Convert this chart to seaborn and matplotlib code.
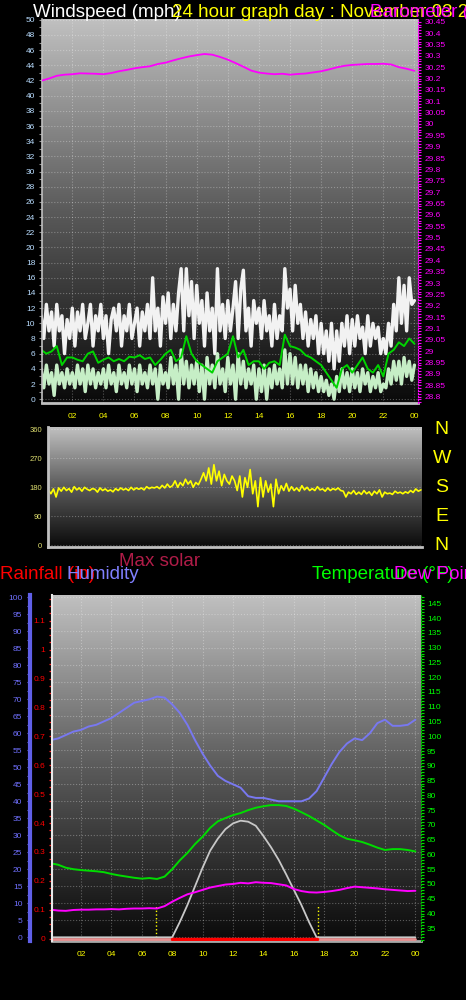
import matplotlib
matplotlib.use("Agg")
import matplotlib.pyplot as plt
import matplotlib.transforms as mtransforms
from matplotlib.colors import LinearSegmentedColormap
from matplotlib.ticker import MultipleLocator
import seaborn as sns
import numpy as np

# ---------------- data ----------------
hour_ticks = [2, 4, 6, 8, 10, 12, 14, 16, 18, 20, 22, 24]
hour_labels = ["02", "04", "06", "08", "10", "12", "14", "16", "18", "20", "22", "00"]

# wind gust (mph), every 10 minutes
gust = [11, 8, 12.5, 9, 11.5, 7,
        12.5, 9, 11, 6, 10.5, 8,
        12, 7, 11.5, 9, 12.5, 8,
        10, 12.5, 7, 11, 9, 12.5,
        8, 11, 6, 10.5, 12, 9,
        12.5, 7, 11, 9, 12.5, 8,
        10, 12, 7, 11.5, 9, 12.5,
        8, 16, 9, 12, 7, 13.5,
        10, 14, 8, 12.5, 9, 14,
        17.2, 9, 17.2, 11, 15.5, 8,
        15, 10, 13, 7, 14, 9,
        12, 6, 17.2, 9, 12.5, 8,
        13, 9, 12, 15.5, 8, 14.5,
        17, 9, 12, 7, 13, 10,
        12, 8, 13, 9, 11, 7,
        12.5, 8, 11, 9, 17.2, 12,
        14.5, 9, 15, 10, 12.5, 8,
        11.5, 7, 10.5, 8, 11, 6,
        10, 6, 9, 5, 10, 4,
        9, 5, 10, 7, 11, 6,
        10.5, 7, 11, 8, 9.5, 6,
        11, 7, 10, 8, 9.5, 6,
        8, 6, 10, 7, 12.5, 9,
        16, 10, 15, 9, 16, 12.5,
        13]

# average wind speed (mph), every 10 minutes
wind_avg = [4, 1.5, 4.5, 2, 3.5, 0.5,
            4.5, 2, 3.5, 1.5, 4, 2,
            3.5, 1.5, 4.5, 2, 4, 1,
            4.5, 2, 4, 1.5, 3.5, 2,
            4, 1.5, 4.5, 2, 3.5, 1,
            4.5, 2, 3.5, 1.5, 4.5, 2,
            4, 1, 4.5, 2, 3.5, 1.5,
            4.5, 2, 4, 0, 4.5, 2,
            3.5, 1.5, 5.5, 2, 4.5, 0,
            6.5, 2, 5, 1.5, 4.5, 2,
            5, 1, 4.5, 0, 5.5, 2,
            4.5, 1.5, 6, 2, 4, 1,
            5.5, 2, 4.5, 0, 6, 2,
            5, 1.5, 4, 2, 4.5, 0,
            4, 1, 4.5, 0, 4, 1.5,
            4.5, 2, 4, 1.5, 6.5, 2,
            6, 2, 5.5, 1.5, 4.5, 2,
            4.5, 1, 4, 1.5, 3.5, 1,
            3, 1, 2.5, 0.5, 2, 0,
            3, 1, 4, 1.5, 3.5, 1,
            4, 1.5, 3.5, 1, 4, 2,
            3.5, 1, 3, 1.5, 3.5, 1,
            2, 1.5, 4, 2, 5, 2.5,
            5, 2, 5.5, 3, 5, 2.5,
            4.5]

# 10-minute average wind (mph), every 20 minutes
wind_10min = [6.5, 6.0, 6.3, 7.0, 4.5, 5.5, 5.5, 5.2, 5.0, 6.0, 6.3, 4.8,
              5.2, 5.5, 5.0, 5.3, 5.0, 5.6, 5.5, 5.8, 5.3, 5.5, 4.5, 5.2,
              6.0, 6.5, 5.0, 5.5, 8.3, 6.0, 5.0, 4.5, 4.0, 3.5, 5.0, 5.5,
              6.0, 8.3, 5.5, 6.5, 4.5, 5.0, 5.0, 4.0, 4.8, 5.0, 4.5, 8.5,
              7.0, 6.8, 6.5, 5.8, 5.5, 5.0, 4.5, 3.5, 2.5, 1.5, 4.0, 4.5,
              3.5, 4.5, 5.5, 4.0, 3.5, 4.5, 3.0, 6.0, 6.5, 7.5, 7.0, 8.0,
              7.3]

# barometer (inHg), every 30 minutes
pressure = [30.190, 30.200, 30.212, 30.217, 30.219, 30.223, 30.222, 30.221,
            30.219, 30.224, 30.232, 30.238, 30.245, 30.250, 30.254, 30.264,
            30.270, 30.280, 30.289, 30.297, 30.303, 30.308, 30.305, 30.295,
            30.283, 30.268, 30.252, 30.235, 30.226, 30.222, 30.219, 30.221,
            30.217, 30.220, 30.222, 30.227, 30.232, 30.240, 30.249, 30.256,
            30.260, 30.262, 30.264, 30.264, 30.265, 30.262, 30.250, 30.243,
            30.234]
pressure_ticks = [28.8, 28.85, 28.9, 28.95, 29, 29.05, 29.1, 29.15, 29.2, 29.25,
                  29.3, 29.35, 29.4, 29.45, 29.5, 29.55, 29.6, 29.65, 29.7, 29.75,
                  29.8, 29.85, 29.9, 29.95, 30, 30.05, 30.1, 30.15, 30.2, 30.25,
                  30.3, 30.35, 30.4, 30.45]

# wind direction (degrees), every 10 minutes
direction = [172, 160, 175, 150, 178, 168,
             180, 170, 176, 165, 182, 172,
             178, 168, 180, 174, 170, 176,
             174, 165, 178, 170, 175, 168,
             172, 166, 176, 170, 178, 172,
             176, 170, 180, 172, 178, 174,
             178, 172, 182, 176, 180, 178,
             182, 176, 186, 178, 190, 180,
             185, 200, 180, 195, 185, 205,
             190, 200, 180, 195, 188, 205,
             225, 200, 240, 190, 250, 200,
             230, 185, 220, 200, 190, 215,
             200, 170, 215, 150, 210, 180,
             235, 160, 200, 120, 210, 150,
             200, 165, 190, 120, 205, 160,
             185, 170, 192, 168, 182, 170,
             178, 168, 185, 172, 180, 170,
             176, 170, 182, 172, 175, 168,
             178, 170, 176, 172, 178, 170,
             168, 150, 165, 160, 170, 158,
             165, 158, 170, 160, 166, 155,
             168, 160, 172, 150, 165, 160,
             162, 158, 168, 162, 165, 160,
             166, 162, 170, 164, 175, 168,
             172]
compass_vals = [360, 270, 180, 90, 0]
compass_labels = ["N", "W", "S", "E", "N"]

# humidity (%), temperature / dew point (F), rain (in), max solar; every 30 minutes
humidity = [58, 58.5, 59.5, 60.5, 61, 62, 62.5, 63.5, 64.5, 66, 67.5, 69, 69.5,
            70, 70.8, 70.5, 68.5, 66, 62.5, 58, 54, 50.5, 47.5, 46, 45, 44,
            41.5, 41, 41, 40.5, 40, 40, 40, 40, 40.8, 43, 47, 51, 54.5, 57,
            58.5, 58, 60, 63, 64, 62.2, 62.2, 62.5, 64]
temperature = [57, 56.5, 55.5, 55, 54.7, 54.5, 54.3, 54, 53.4, 52.9, 52.5, 52.1,
               51.8, 52, 51.7, 52.5, 55, 58, 60.5, 63.5, 66, 69, 71.2, 72.3,
               73.3, 74, 75, 75.8, 76.3, 76.7, 76.7, 76.4, 75.5, 74.3, 73, 71.5,
               70, 68.2, 66.5, 65.3, 64.8, 64.2, 63.3, 62.3, 61.5, 61.8, 61.8,
               61.5, 61]
dew_point = [41.3, 41.0, 40.9, 41.2, 41.3, 41.3, 41.4, 41.4, 41.5, 41.4, 41.6,
             41.7, 41.7, 41.8, 41.7, 42.5, 44.0, 45.3, 46.5, 47.2, 48.0, 48.8,
             49.3, 49.8, 50.0, 50.4, 50.2, 50.6, 50.4, 50.3, 49.9, 49.5, 48.3,
             47.6, 47.2, 47.1, 47.3, 47.6, 48.0, 48.6, 49.1, 48.9, 48.7, 48.5,
             48.2, 48.0, 47.8, 47.6, 47.7]
rain = [0] * 49
max_solar = [0, 0, 0, 0, 0, 0, 0, 0, 0, 0, 0, 0, 0, 0, 0, 0,
             0, 45, 95, 150, 205, 255, 290, 318, 335, 343, 340, 328, 298, 265,
             228, 185, 140, 95, 45, 0,
             0, 0, 0, 0, 0, 0, 0, 0, 0, 0, 0, 0, 0]
sun_times = [6.9, 17.6]

hours_10 = np.arange(len(gust)) / 6
hours_20 = np.arange(len(wind_10min)) / 3
hours_30 = np.arange(len(pressure)) / 2

# ---------------- style ----------------
sns.set_style("dark")
plt.rcParams['font.family'] = ['Liberation Sans', 'DejaVu Sans']
plt.rcParams['axes.facecolor'] = 'black'
plt.rcParams['axes.edgecolor'] = '#c0c0c0'

W, H = 466, 1000
fig = plt.figure(figsize=(W / 100, H / 100), dpi=100, facecolor='black')


def px_rect(x0, y0, x1, y1):
    return [x0 / W, 1 - y1 / H, (x1 - x0) / W, (y1 - y0) / H]


bg = LinearSegmentedColormap.from_list('bg', ['#0a0a0a', '#5a5a5a', '#c0c0c0'])


def shade(ax):
    grad = np.linspace(0, 1, 256).reshape(-1, 1)
    ax.imshow(grad, extent=[0, 1, 0, 1], transform=ax.transAxes, origin='lower',
              aspect='auto', cmap=bg, zorder=-5)


grid_kw = dict(color='white', alpha=0.3, linestyle=':', linewidth=0.8)

# ---------------- panel 1: wind + barometer ----------------
ax1 = fig.add_axes(px_rect(41.5, 19, 418, 403))
shade(ax1)
sns.lineplot(x=hours_10, y=gust, ax=ax1, color='#f2f2f2', lw=2.4)
sns.lineplot(x=hours_10, y=wind_avg, ax=ax1, color='#c6eec6', lw=2.4)
sns.lineplot(x=hours_20, y=wind_10min, ax=ax1, color='#00d400', lw=1.4)
ax1.set_xlim(0.02, 24.23)
ax1.set_ylim(-0.5, 50.1)
ax1.set_xticks(hour_ticks)
ax1.set_xticklabels(hour_labels)
ax1.xaxis.set_minor_locator(MultipleLocator(1))
ax1.yaxis.set_major_locator(MultipleLocator(2))
ax1.yaxis.set_minor_locator(MultipleLocator(1))
ax1.tick_params(axis='x', which='both', colors='#909090', labelcolor='#ffff00',
                labelsize=6, length=3, width=0.8, pad=4)
ax1.tick_params(axis='y', which='both', colors='#909090', labelcolor='#b8dcff',
                labelsize=6, length=2.5, width=0.8, pad=2)
ax1.grid(True, which='major', **grid_kw)
ax1.set_xlabel('')
ax1.set_ylabel('')
for s in ['top', 'right']:
    ax1.spines[s].set_visible(False)
ax1.spines['bottom'].set_linewidth(2)
ax1.spines['left'].set_linewidth(1.2)

ax1b = ax1.twinx()
sns.lineplot(x=hours_30, y=pressure, ax=ax1b, color='#ff00ff', lw=1.3)
ax1b.set_ylim(28.772, 30.462)
ax1b.set_yticks(pressure_ticks)
ax1b.set_yticklabels([f"{v:g}" for v in pressure_ticks])
ax1b.yaxis.set_minor_locator(MultipleLocator(0.0125))
ax1b.tick_params(axis='y', which='both', colors='#ff00ff', labelcolor='#ff00ff',
                 labelsize=6, length=2.5, width=0.8, pad=2)
ax1b.set_ylabel('')
for s in ['top', 'left', 'bottom']:
    ax1b.spines[s].set_visible(False)
ax1b.spines['right'].set_color('#ff00ff')
ax1b.spines['right'].set_linestyle(':')
ax1b.grid(False)

# ---------------- panel 2: wind direction ----------------
ax2 = fig.add_axes(px_rect(48.3, 427.3, 421.7, 547.3))
shade(ax2)
sns.lineplot(x=hours_10, y=direction, ax=ax2, color='#ffff00', lw=1.2)
ax2.set_xlim(0, 24.05)
ax2.set_ylim(-6, 366)
ax2.set_xticks([])
ax2.set_yticks(compass_vals)
ax2.yaxis.set_minor_locator(MultipleLocator(22.5))
ax2.tick_params(axis='y', which='both', colors='#c8c850', labelcolor='#e0e070',
                labelsize=5.5, length=2.5, width=0.8, pad=2)
ax2.grid(True, axis='y', **grid_kw)
ax2.grid(False, axis='x')
ax2.set_xlabel('')
ax2.set_ylabel('')
for s in ['top', 'right']:
    ax2.spines[s].set_visible(False)
ax2.spines['bottom'].set_linewidth(2)
ax2.spines['left'].set_linewidth(2)

comp_tr = mtransforms.blended_transform_factory(fig.transFigure, ax2.transData)
for val, lab in zip(compass_vals, compass_labels):
    ax2.text(441.7 / W, val, lab, transform=comp_tr, ha='center', va='center',
             color='#ffff00', fontsize=14)

# ---------------- panel 3: humidity / rain / temperature ----------------
ax3 = fig.add_axes(px_rect(51.7, 595, 420.7, 941))
shade(ax3)
sns.lineplot(x=hours_30, y=humidity, ax=ax3, color='#7878f0', lw=1.4)
for t in sun_times:
    ax3.axvline(t, ymin=0, ymax=0.1, color='#ffff00', lw=1, ls=':')
ax3.set_xlim(0.07, 24.35)
ax3.set_ylim(-1.09, 100.68)
ax3.set_xticks(hour_ticks)
ax3.set_xticklabels(hour_labels)
ax3.xaxis.set_minor_locator(MultipleLocator(0.5))
ax3.yaxis.set_major_locator(MultipleLocator(5))
ax3.yaxis.set_minor_locator(MultipleLocator(2.5))
ax3.tick_params(axis='x', which='both', colors='#909090', labelcolor='#ffff00',
                labelsize=6, length=3, width=0.8, pad=4)
ax3.tick_params(axis='y', which='both', colors='#6a6af0', labelcolor='#7070ff',
                labelsize=6, length=2.5, width=0.8, pad=3)
ax3.grid(True, which='major', **grid_kw)
ax3.set_xlabel('')
ax3.set_ylabel('')
for s in ['top', 'right']:
    ax3.spines[s].set_visible(False)
ax3.spines['left'].set_position(('outward', 15.6))
ax3.spines['left'].set_color('#6060e8')
ax3.spines['left'].set_linewidth(3)
ax3.spines['bottom'].set_linewidth(2)
ax3.spines['bottom'].set_color('#a8a8a8')

ax_sol = ax3.twinx()
sns.lineplot(x=hours_30, y=max_solar, ax=ax_sol, color='#c8c8c8', lw=1.3)
ax_sol.set_ylim(-10.9, 1006.8)
ax_sol.set_yticks([])
ax_sol.set_ylabel('')
for s in ax_sol.spines.values():
    s.set_visible(False)
ax_sol.grid(False)

ax_t = ax3.twinx()
sns.lineplot(x=hours_30, y=temperature, ax=ax_t, color='#00dd00', lw=1.4)
sns.lineplot(x=hours_30, y=dew_point, ax=ax_t, color='#ff00ff', lw=1.4)
ax_t.set_ylim(30.7, 147.8)
ax_t.yaxis.set_minor_locator(MultipleLocator(1))
ax_t.set_yticks([v for v in range(35, 150, 5)])
ax_t.tick_params(axis='y', which='both', colors='#00dd00', labelcolor='#00ff00',
                 labelsize=6, length=2.5, width=0.8, pad=2)
ax_t.set_ylabel('')
for s in ['top', 'left', 'bottom']:
    ax_t.spines[s].set_visible(False)
ax_t.spines['right'].set_color('#00c000')
ax_t.spines['right'].set_linestyle(':')
ax_t.grid(False)

ax_r = ax3.twinx()
day = np.array(max_solar) > 0
day_idx = np.where(day)[0]
day_slice = slice(day_idx[0] - 1, day_idx[-1] + 2)
sns.lineplot(x=hours_30, y=rain, ax=ax_r, color='#e89090', lw=2)
sns.lineplot(x=hours_30[day_slice], y=np.array(rain)[day_slice], ax=ax_r, color='#ff0000', lw=2.5)
ax_r.set_ylim(-0.008, 1.189)
ax_r.yaxis.set_ticks_position('left')
ax_r.yaxis.set_label_position('left')
ax_r.set_yticks([round(0.1 * i, 1) for i in range(12)])
ax_r.set_yticklabels([f"{0.1 * i:g}" if i else "0" for i in range(12)])
ax_r.yaxis.set_minor_locator(MultipleLocator(0.025))
ax_r.tick_params(axis='y', which='both', colors='#ff2020', labelcolor='#ff0000',
                 labelsize=6, length=2.5, width=0.9, pad=2)
ax_r.set_ylabel('')
for s in ['top', 'right', 'bottom']:
    ax_r.spines[s].set_visible(False)
ax_r.spines['left'].set_visible(True)
ax_r.spines['left'].set_color('#e8e8e8')
ax_r.spines['left'].set_linewidth(1.5)
ax_r.grid(False)

# ---------------- captions ----------------
def caption(x, y, s, color):
    fig.text(x / W, 1 - y / H, s, color=color, fontsize=13.5, va='baseline', ha='left')


caption(33, 16.7, "Windspeed (mph)", 'white')
caption(172, 16.7, "24 hour graph day : November 03 2011", '#ffff00')
caption(370, 16.7, "Barometer (in)", '#ff00ff')
caption(119, 566, "Max solar", '#b01c48')
caption(0, 579, "Rainfall (in)", '#ff0000')
caption(66, 579, "Humidity", '#8080ff')
caption(312, 579, "Temperature (°F)", '#00ff00')
caption(394, 579, "Dew Point (°F)", '#ff00ff')

fig.savefig('out.png', dpi=100, facecolor='black')
